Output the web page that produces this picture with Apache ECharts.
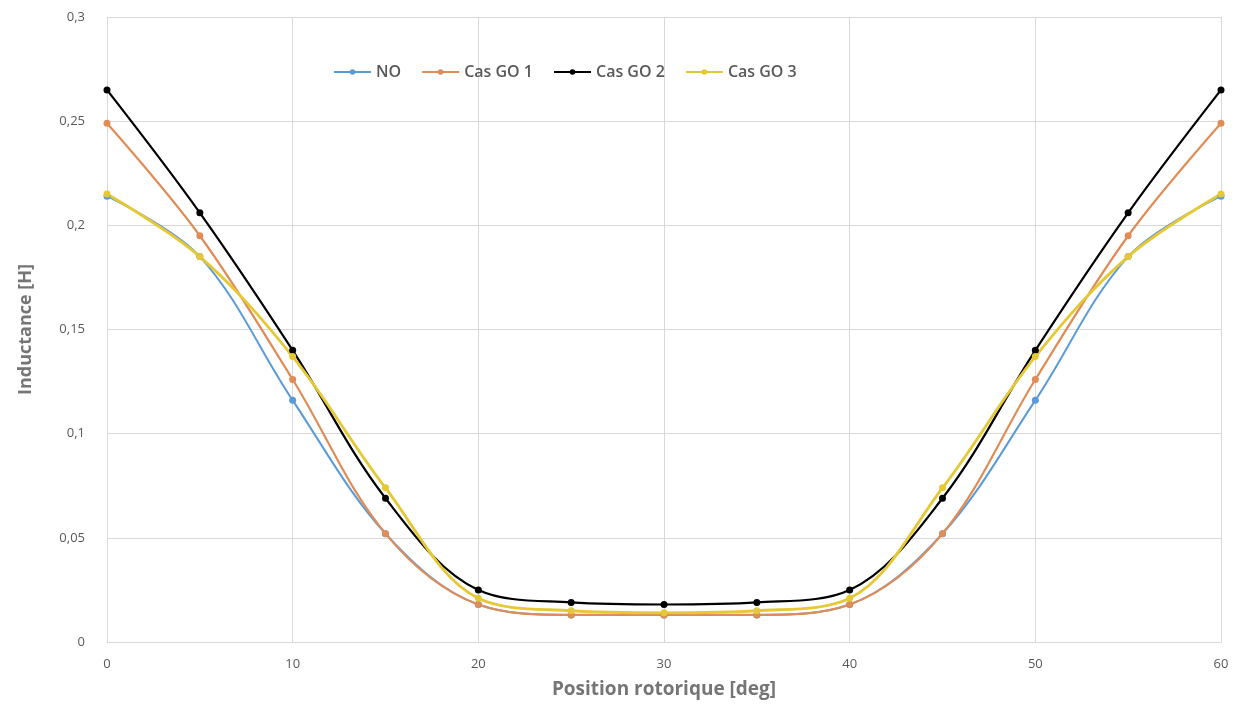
<!DOCTYPE html>
<html>
<head>
<meta charset="utf-8">
<script src="https://cdn.jsdelivr.net/npm/echarts@6/dist/echarts.min.js"></script>
<style>
  html, body { margin: 0; padding: 0; background: #fff; }
  #show { width: 1250px; height: 704px; }
</style>
</head>
<body>
<div id="show"></div>
<script>
var myChart = echarts.init(document.getElementById("show"));

// positions rotoriques [deg]
var positions = [0, 5, 10, 15, 20, 25, 30, 35, 40, 45, 50, 55, 60];

// inductances [H]
var no    = [0.214, 0.185, 0.116, 0.052, 0.018, 0.013, 0.013, 0.013, 0.018, 0.052, 0.116, 0.185, 0.214];
var casGo1 = [0.249, 0.195, 0.126, 0.052, 0.018, 0.013, 0.013, 0.013, 0.018, 0.052, 0.126, 0.195, 0.249];
var casGo2 = [0.265, 0.206, 0.140, 0.069, 0.025, 0.019, 0.018, 0.019, 0.025, 0.069, 0.140, 0.206, 0.265];
var casGo3 = [0.215, 0.185, 0.137, 0.074, 0.021, 0.015, 0.014, 0.015, 0.021, 0.074, 0.137, 0.185, 0.215];

function pairs(vals) {
    return positions.map(function (x, i) { return [x, vals[i]]; });
}

function line(name, vals, color, width) {
    return {
        name: name,
        type: 'line',
        data: pairs(vals),
        smooth: 0.35,
        symbol: 'circle',
        symbolSize: 7,
        lineStyle: { color: color, width: width },
        itemStyle: { color: color }
    };
}

var comma = function (v) {
    return String(parseFloat(v.toFixed(2))).replace('.', ',');
};

myChart.setOption(option = {
    animation: false,
    textStyle: { fontFamily: 'Open Sans' },
    legend: {
        top: 59,
        left: 328,
        itemWidth: 37,
        itemHeight: 7,
        itemGap: 20,
        textStyle: { color: '#595959', fontSize: 16, fontWeight: 600 }
    },
    grid: { left: 107, right: 29, top: 17, bottom: 60 },
    xAxis: {
        type: 'value',
        min: 0, max: 60, interval: 10,
        name: 'Position rotorique [deg]',
        nameLocation: 'middle',
        nameGap: 38,
        nameTextStyle: { color: '#757575', fontSize: 19, fontWeight: 'bold' },
        axisLine: { lineStyle: { color: '#d9d9d9' } },
        axisTick: { show: false },
        axisLabel: { color: '#595959', fontSize: 13, margin: 16 },
        splitLine: { show: true, lineStyle: { color: '#d9d9d9' } }
    },
    yAxis: {
        type: 'value',
        min: 0, max: 0.3, interval: 0.05,
        name: 'Inductance [H]',
        nameLocation: 'middle',
        nameGap: 72,
        nameTextStyle: { color: '#757575', fontSize: 18, fontWeight: 'bold' },
        axisLine: { show: false },
        axisTick: { show: false },
        axisLabel: { color: '#595959', fontSize: 13, margin: 22, formatter: comma },
        splitLine: { lineStyle: { color: '#d9d9d9' } }
    },
    series: [
        line('NO', no, '#5b9bd5', 2),
        line('Cas GO 1', casGo1, '#e08c57', 2.2),
        line('Cas GO 2', casGo2, '#000000', 2.2),
        line('Cas GO 3', casGo3, '#e6c834', 2.8)
    ]
});
</script>
</body>
</html>
